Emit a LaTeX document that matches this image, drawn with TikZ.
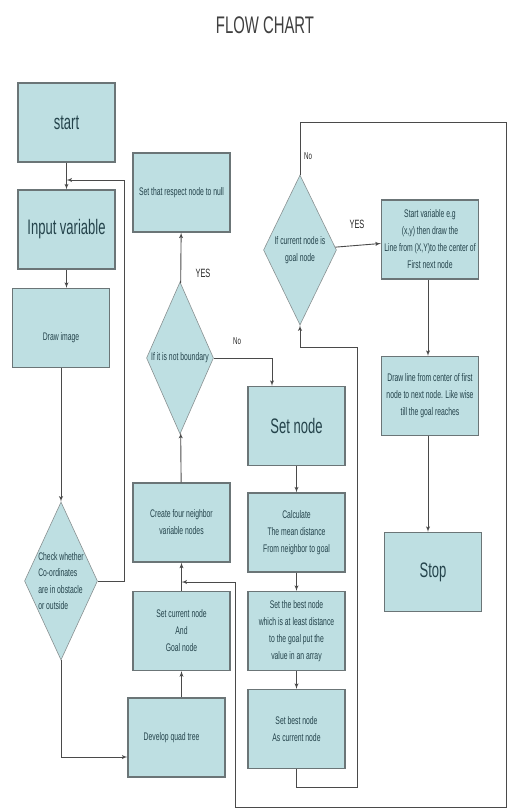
\documentclass[tikz,border=0pt]{standalone}
\usepackage{fontspec}
\setmainfont{Liberation Sans}[FakeStretch=0.62]
\usetikzlibrary{shapes,arrows,calc,positioning}
\definecolor{boxfill}{HTML}{BEDFE2}
\definecolor{boxline}{HTML}{6B7577}
\definecolor{boxtext}{HTML}{24434B}
\definecolor{wire}{HTML}{4A4A4A}
\tikzstyle{box} = [draw=boxline, fill=boxfill, rectangle, line width=1.3pt, text=boxtext, minimum width=97pt, minimum height=79pt, align=center, inner sep=1pt, font=\fontsize{11}{17}\selectfont]
\tikzstyle{bigbox} = [box, font=\fontsize{21}{24}\selectfont]
\tikzstyle{decision} = [draw=boxline!80, fill=boxfill, diamond, line width=0.6pt, inner sep=0pt]
\tikzstyle{dtext} = [text=boxtext, inner sep=0pt, align=center, font=\fontsize{11}{16.5}\selectfont]
\tikzstyle{line} = [draw=wire, line width=0.9pt, -latex']
\tikzstyle{tag} = [inner sep=0pt, text=black!85, font=\fontsize{12}{13}\selectfont]

\begin{document}
\begin{tikzpicture}[x=1pt, y=-1pt]
	\useasboundingbox (0,0) rectangle (510,812);
	\node [font=\fontsize{24}{26}\selectfont, text=black!75] (title) at (265,25) {FLOW CHART};

	% left column
	\node [bigbox] (start) at (66.5,122.5) {start};
	\node [bigbox] (input) at (66.5,229.5) {Input variable};
	\node [box, label={[dtext, yshift=-10pt]center:Draw image}] (draw) at (61,328) {};
	\node [decision, minimum width=73pt, minimum height=158pt, label={[dtext, align=left]center:{Check whether\\Co-ordinates\\are in obstacle\\or outside}}] (check) at (61,581) {};

	% second column
	\node [box] (null) at (181.5,192.5) {Set that respect node to null};
	\node [decision, minimum width=67pt, minimum height=152pt, label={[dtext]center:If it is not boundary}] (boundary) at (180,358) {};
	\node [box] (create) at (181.5,522.5) {Create four neighbor\\variable nodes};
	\node [box] (current) at (181.5,631) {Set current node\\And\\Goal node};
	\node [box] (quad) at (176.5,737.5) {Develop quad tree\hspace{10pt}};

	% third column
	\node [decision, minimum width=73pt, minimum height=150pt, label={[dtext]center:{If current node is\\goal node}}] (goal) at (300,250) {};
	\node [bigbox] (setnode) at (296.5,426) {Set node};
	\node [box] (calc) at (296.5,532.5) {Calculate\\The mean distance\\From neighbor to goal};
	\node [box] (best) at (296.5,631) {Set the best node\\which is at least distance\\to the goal put the\\value in an array};
	\node [box] (bestcur) at (296.5,729) {Set best node\\As current node};

	% right column
	\node [box] (startvar) at (430,239.5) {Start variable e.g\\(x,y) then draw the\\Line from (X,Y)to the center of\\First next node};
	\node [box] (drawline) at (430,396) {Draw line from center of first\\node to next node. Like wise\\till the goal reaches};
	\node [bigbox] (stop) at (433,572) {Stop};

	% labels
	\node [tag] (yes1) at (203,273) {YES};
	\node [tag, font=\fontsize{10}{11}\selectfont] (no1) at (237,341) {No};
	\node [tag, font=\fontsize{10}{11}\selectfont] (no2) at (308,156) {No};
	\node [tag] (yes2) at (357,224) {YES};

	% bends
	\coordinate (jin) at (66.5,180);
	\coordinate (upA) at (124,180);
	\coordinate (b1) at (357,787);
	\coordinate (b2) at (300,347);
	\coordinate (r1) at (506,122);
	\coordinate (r2) at (235,807);
	\coordinate (jcr) at (181.5,582);

	\path [line] (start) -- (input);
	\path [line] (input.south) -- (input.south |- draw.north);
	\path [line] (draw) -- (check);
	\path [line] (check.south) |- ([yshift=-19.5pt]quad.west);
	\path [line] (check.east) -| (upA) -- (jin);
	\path [line] (current.south |- quad.north) -- (current.south);
	\path [line] (current) -- (create);
	\path [line] (create) -- (boundary);
	\path [line] (boundary) -- (null);
	\path [line] (boundary.east) -| ([xshift=-24.5pt]setnode.north);
	\path [line] (setnode) -- (calc);
	\path [line] (calc) -- (best);
	\path [line] (best) -- (bestcur);
	\path [line] (bestcur.south) |- (b1) |- (b2) -- (goal.south);
	\path [line] (goal.north) |- (r1) |- (r2) |- (jcr);
	\path [line] (goal) -- (startvar);
	\path [line] ([xshift=-2pt]startvar.south) -- ([xshift=-2pt]drawline.north);
	\path [line] ([xshift=-2pt]drawline.south) -- ([xshift=-2pt]drawline.south |- stop.north);
\end{tikzpicture}
\end{document}
